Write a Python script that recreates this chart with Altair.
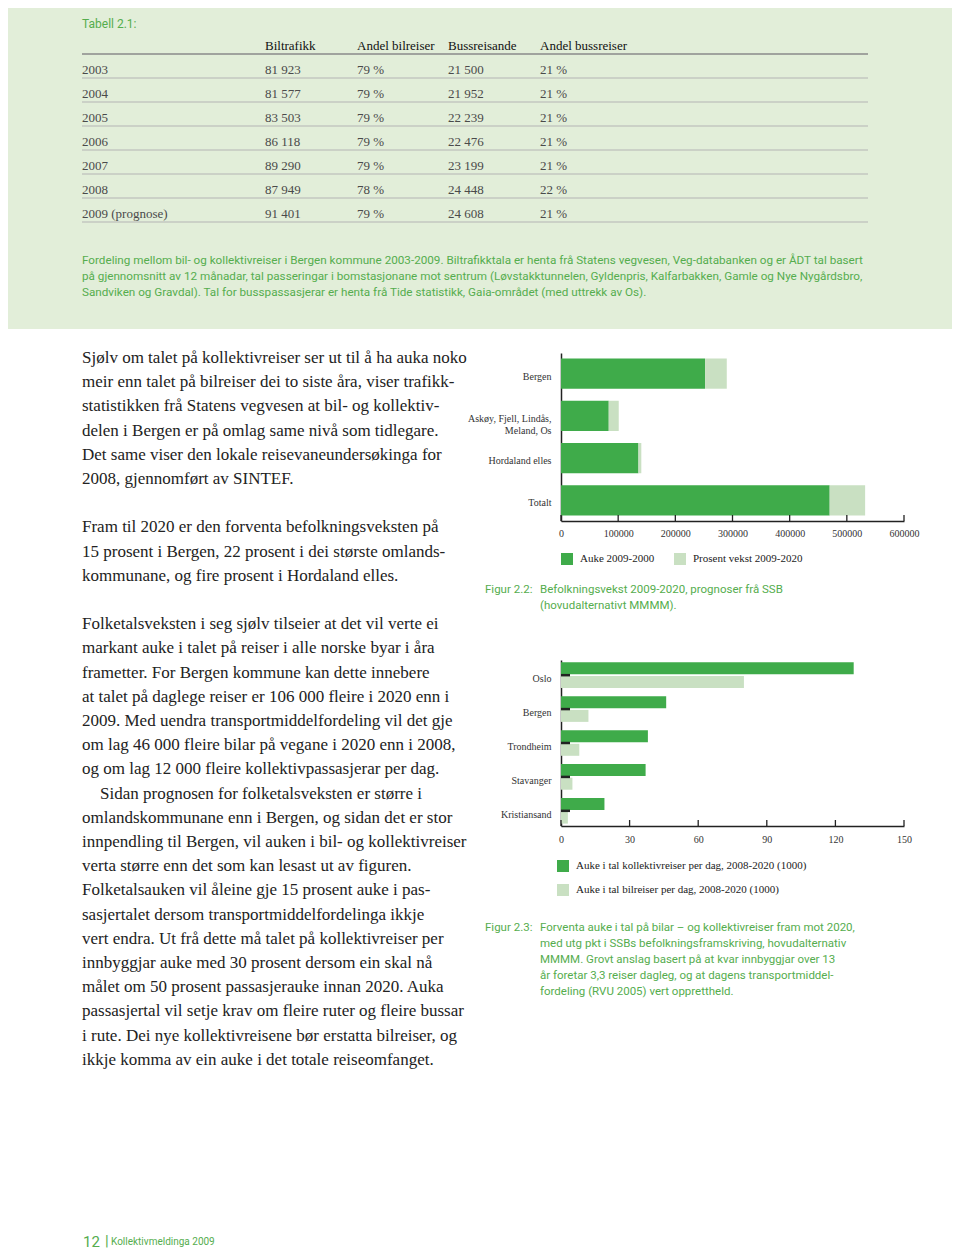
import altair as alt
import pandas as pd

DARK = "#3fab4a"
LIGHT = "#c9e0c2"
GREEN_TXT = "#55ad4e"
PANEL = "#e2eed9"
SERIF = "Liberation Serif"
SANS = "Roboto"

# ---------------- Tabell 2.1 ----------------
table_title = "Tabell 2.1:"
table_headers = ["", "Biltrafikk", "Andel bilreiser", "Bussreisande", "Andel bussreiser"]
table_years = ["2003", "2004", "2005", "2006", "2007", "2008", "2009 (prognose)"]
biltrafikk = [81923, 81577, 83503, 86118, 89290, 87949, 91401]
andel_bil = [79, 79, 79, 79, 79, 78, 79]
bussreisande = [21500, 21952, 22239, 22476, 23199, 24448, 24608]
andel_buss = [21, 21, 21, 21, 21, 22, 21]
table_caption = [
    "Fordeling mellom bil- og kollektivreiser i Bergen kommune 2003-2009. Biltrafikktala er henta frå Statens vegvesen, Veg-databanken og er ÅDT tal basert",
    "på gjennomsnitt av 12 månadar, tal passeringar i bomstasjonane mot sentrum (Løvstakktunnelen, Gyldenpris, Kalfarbakken, Gamle og Nye Nygårdsbro,",
    "Sandviken og Gravdal). Tal for busspassasjerar er henta frå Tide statistikk, Gaia-området (med uttrekk av Os).",
]

# ---------------- Figur 2.2 ----------------
regions = ["Bergen", "Askøy, Fjell, Lindås, Meland, Os", "Hordaland elles", "Totalt"]
auke = [252000, 83500, 135500, 470000]
vekst = [38000, 17500, 5000, 62000]
fig22_series = ["Auke 2009-2000", "Prosent vekst 2009-2020"]
fig22_ticks = [0, 100000, 200000, 300000, 400000, 500000, 600000]
fig22_label = "Figur 2.2:"
fig22_caption = ["Befolkningsvekst 2009-2020, prognoser frå SSB", "(hovudalternativt MMMM)."]

# ---------------- Figur 2.3 ----------------
cities = ["Oslo", "Bergen", "Trondheim", "Stavanger", "Kristiansand"]
kollektiv = [128, 46, 38, 37, 19]
bil = [80, 12, 8, 5, 3]
fig23_series = ["Auke i tal kollektivreiser per dag, 2008-2020 (1000)",
                "Auke i tal bilreiser per dag, 2008-2020 (1000)"]
fig23_ticks = [0, 30, 60, 90, 120, 150]
fig23_label = "Figur 2.3:"
fig23_caption = [
    "Forventa auke i tal på bilar – og kollektivreiser fram mot 2020,",
    "med utg pkt i SSBs befolkningsframskriving, hovudalternativ",
    "MMMM. Grovt anslag basert på at kvar innbyggjar over 13",
    "år foretar 3,3 reiser dagleg, og at dagens transportmiddel-",
    "fordeling (RVU 2005) vert opprettheld.",
]

# ---------------- Body text ----------------
body_p1 = [
    "Sjølv om talet på kollektivreiser ser ut til å ha auka noko",
    "meir enn talet på bilreiser dei to siste åra, viser trafikk-",
    "statistikken frå Statens vegvesen at bil- og kollektiv-",
    "delen i Bergen er på omlag same nivå som tidlegare.",
    "Det same viser den lokale reisevaneundersøkinga for",
    "2008, gjennomført av SINTEF.",
]
body_p2 = [
    "Fram til 2020 er den forventa befolkningsveksten på",
    "15 prosent i Bergen, 22 prosent i dei største omlands-",
    "kommunane, og fire prosent i Hordaland elles.",
]
body_p3 = [
    "Folketalsveksten i seg sjølv tilseier at det vil verte ei",
    "markant auke i talet på reiser i alle norske byar i åra",
    "frametter. For Bergen kommune kan dette innebere",
    "at talet på daglege reiser er 106 000 fleire i 2020 enn i",
    "2009. Med uendra transportmiddelfordeling vil det gje",
    "om lag 46 000 fleire bilar på vegane i 2020 enn i 2008,",
    "og om lag 12 000 fleire kollektivpassasjerar per dag.",
]
body_p4 = [
    "Sidan prognosen for folketalsveksten er større i",
    "omlandskommunane enn i Bergen, og sidan det er stor",
    "innpendling til Bergen, vil auken i bil- og kollektivreiser",
    "verta større enn det som kan lesast ut av figuren.",
    "Folketalsauken vil åleine gje 15 prosent auke i pas-",
    "sasjertalet dersom transportmiddelfordelinga ikkje",
    "vert endra. Ut frå dette må talet på kollektivreiser per",
    "innbyggjar auke med 30 prosent dersom ein skal nå",
    "målet om 50 prosent passasjerauke innan 2020. Auka",
    "passasjertal vil setje krav om fleire ruter og fleire bussar",
    "i rute. Dei nye kollektivreisene bør erstatta bilreiser, og",
    "ikkje komma av ein auke i det totale reiseomfanget.",
]
footer_page = "12"
footer_title = "Kollektivmeldinga 2009"

one = pd.DataFrame({"k": [0]})


def fmt(v):
    return f"{v:,}".replace(",", " ")


# ================= Top panel (table) =================
row_keys = ["hdr"] + table_years
tbl = pd.DataFrame({
    "row": row_keys,
    "c0": [table_headers[0]] + table_years,
    "c1": [table_headers[1]] + [fmt(v) for v in biltrafikk],
    "c2": [table_headers[2]] + [f"{v} %" for v in andel_bil],
    "c3": [table_headers[3]] + [fmt(v) for v in bussreisande],
    "c4": [table_headers[4]] + [f"{v} %" for v in andel_buss],
})
row_y = alt.Y("row:N", scale=alt.Scale(type="point", domain=row_keys, range=[38, 206], padding=0), axis=None)
col_x = [74, 257, 349, 440, 532]
is_hdr = "datum.row == 'hdr'"

table_layers = []
for i, cx in enumerate(col_x):
    table_layers.append(
        alt.Chart(tbl).mark_text(font=SERIF, fontSize=13, align="left", baseline="middle").encode(
            x=alt.value(cx), y=row_y, text=f"c{i}:N",
            color=alt.condition(is_hdr, alt.value("#111111"), alt.value("#4a4a4a")),
        )
    )
rules = alt.Chart(tbl).mark_rule(yOffset=8).encode(
    y=row_y, x=alt.value(74), x2=alt.value(860),
    color=alt.condition(is_hdr, alt.value("#8a8a8a"), alt.value("#b4b4b4")),
    strokeWidth=alt.condition(is_hdr, alt.value(1.4), alt.value(1)),
)
title_t = alt.Chart(one).mark_text(text=table_title, font=SANS, fontSize=12, color=GREEN_TXT,
                                   align="left", baseline="middle").encode(x=alt.value(74), y=alt.value(16))
cap_t = alt.Chart(one).mark_text(text=table_caption, font=SANS, fontSize=11.7, lineHeight=16, color=GREEN_TXT,
                                 align="left", baseline="top").encode(x=alt.value(74), y=alt.value(247))

top_panel = alt.layer(rules, *table_layers, title_t, cap_t).properties(
    width=944, height=321, view=alt.ViewBackground(fill=PANEL, strokeWidth=0)
)

# ================= Left text panel =================
LH = 24.2
Y0 = -3
blocks = [  # (lines, x, start line index)
    (body_p1, 74, 0),
    (body_p2, 74, 7),
    (body_p3, 74, 11),
    (body_p4[:1], 92, 18),
    (body_p4[1:], 74, 19),
]
body_layers = [
    alt.Chart(one).mark_text(text=lines, font=SERIF, fontSize=17, lineHeight=LH, color="#222222",
                             align="left", baseline="top").encode(x=alt.value(bx), y=alt.value(Y0 + LH * start))
    for lines, bx, start in blocks
]
foot1 = alt.Chart(one).mark_text(text=footer_page, font=SANS, fontSize=15, color=GREEN_TXT,
                                 align="left", baseline="middle").encode(x=alt.value(75), y=alt.value(889))
foot2 = alt.Chart(one).mark_text(text="|", font=SANS, fontSize=15, color=GREEN_TXT,
                                 align="left", baseline="middle").encode(x=alt.value(97), y=alt.value(888))
foot3 = alt.Chart(one).mark_text(text=footer_title, font=SANS, fontSize=10, color=GREEN_TXT,
                                 align="left", baseline="middle").encode(x=alt.value(103), y=alt.value(889))
left_panel = alt.layer(*body_layers, foot1, foot2, foot3).properties(width=543, height=473)

# ================= Figur 2.2 =================
df22 = pd.DataFrame(
    [{"region": r, "series": fig22_series[0], "value": a, "ord": 0} for r, a in zip(regions, auke)]
    + [{"region": r, "series": fig22_series[1], "value": v, "ord": 1} for r, v in zip(regions, vekst)]
)
x22_axis = alt.Axis(values=fig22_ticks, format="d", title=None, grid=False, ticks=False, labelPadding=7,
                    domainColor="#222222", domainWidth=1.5, labelFont=SERIF, labelFontSize=10,
                    labelColor="#333333", labelFlush=False)
x22 = alt.Scale(domain=[0, 600000], nice=False)
multi = ("datum.value == 'Askøy, Fjell, Lindås, Meland, Os' ? "
         "['Askøy, Fjell, Lindås,', 'Meland, Os'] : datum.label")
y22_axis = alt.Axis(title=None, ticks=False, labelPadding=10, labelExpr=multi, labelLineHeight=12,
                    labelOffset=3, domainColor="#222222", domainWidth=1.5, labelFont=SERIF, labelFontSize=10,
                    labelColor="#333333")
bars22 = alt.Chart(df22).mark_bar().encode(
    x=alt.X("value:Q", stack="zero", scale=x22, axis=x22_axis),
    y=alt.Y("region:N", sort=regions, scale=alt.Scale(paddingInner=0.285, paddingOuter=0.13), axis=y22_axis),
    color=alt.Color("series:N", scale=alt.Scale(domain=fig22_series, range=[DARK, LIGHT]),
                    legend=alt.Legend(orient="none", legendX=0, legendY=200, direction="horizontal", title=None,
                                      symbolType="square", symbolSize=144, symbolStrokeWidth=0,
                                      labelFont=SERIF, labelFontSize=11, labelColor="#222222", labelLimit=400,
                                      labelOffset=7, columnPadding=19, padding=0)),
    order=alt.Order("ord:Q"),
)
ticks22 = alt.Chart(pd.DataFrame({"value": fig22_ticks})).mark_rule(color="#222222", strokeWidth=1.3).encode(
    x=alt.X("value:Q", scale=x22, axis=x22_axis), y=alt.value(162), y2=alt.value(168)
)
cap22a = alt.Chart(one).mark_text(text=fig22_label, font=SANS, fontSize=11.5, color=GREEN_TXT,
                                  align="left", baseline="top").encode(x=alt.value(-76), y=alt.value(231))
cap22b = alt.Chart(one).mark_text(text=fig22_caption, font=SANS, fontSize=11.5, lineHeight=16, color=GREEN_TXT,
                                  align="left", baseline="top").encode(x=alt.value(-21), y=alt.value(231))
fig22 = alt.layer(bars22, ticks22, cap22a, cap22b).properties(width=343, height=168)

# ================= Figur 2.3 =================
df23 = pd.DataFrame(
    [{"city": c, "series": fig23_series[0], "value": v} for c, v in zip(cities, kollektiv)]
    + [{"city": c, "series": fig23_series[1], "value": v} for c, v in zip(cities, bil)]
)
x23 = alt.Scale(domain=[0, 150], nice=False)
x23_axis = alt.Axis(values=fig23_ticks, title=None, grid=False, ticks=False, labelPadding=8,
                    domainColor="#222222", domainWidth=1.5, labelFont=SERIF, labelFontSize=10,
                    labelColor="#333333", labelFlush=False)
y23_axis = alt.Axis(title=None, ticks=False, labelPadding=10, labelOffset=4, domainColor="#222222",
                    domainWidth=1.5, labelFont=SERIF, labelFontSize=10, labelColor="#333333")
y23_scale = alt.Scale(paddingInner=0.245, paddingOuter=0.07)
bars23 = alt.Chart(df23).mark_bar().encode(
    x=alt.X("value:Q", scale=x23, axis=x23_axis),
    y=alt.Y("city:N", sort=cities, scale=y23_scale, axis=y23_axis),
    yOffset=alt.YOffset("series:N", sort=fig23_series,
                        scale=alt.Scale(domain=fig23_series, paddingInner=0.12)),
    color=alt.Color("series:N", scale=alt.Scale(domain=fig23_series, range=[DARK, LIGHT]),
                    legend=alt.Legend(orient="none", legendX=-4, legendY=200, direction="vertical", title=None,
                                      symbolType="square", symbolSize=144, symbolStrokeWidth=0,
                                      labelFont=SERIF, labelFontSize=11, labelColor="#222222", labelLimit=400,
                                      labelOffset=7, rowPadding=12, padding=0)),
)
yticks23 = alt.Chart(pd.DataFrame({"city": cities})).mark_rule(color="#222222", strokeWidth=2.5).encode(
    y=alt.Y("city:N", sort=cities, scale=y23_scale, axis=y23_axis, bandPosition=0.5),
    x=alt.value(0), x2=alt.value(9),
)
xticks23 = alt.Chart(pd.DataFrame({"value": fig23_ticks})).mark_rule(color="#222222", strokeWidth=1.3).encode(
    x=alt.X("value:Q", scale=x23, axis=x23_axis), y=alt.value(160), y2=alt.value(166)
)
cap23a = alt.Chart(one).mark_text(text=fig23_label, font=SANS, fontSize=11.5, color=GREEN_TXT,
                                  align="left", baseline="top").encode(x=alt.value(-76), y=alt.value(262))
cap23b = alt.Chart(one).mark_text(text=fig23_caption, font=SANS, fontSize=11.5, lineHeight=16.1, color=GREEN_TXT,
                                  align="left", baseline="top").encode(x=alt.value(-21), y=alt.value(262))
fig23 = alt.layer(bars23, yticks23, xticks23, cap23a, cap23b).properties(width=343, height=166)

# ================= Assemble =================
right_col = alt.vconcat(fig22, fig23, spacing=139, bounds="flush").resolve_scale(color="independent")
middle = alt.hconcat(left_panel, right_col, spacing=10, bounds="flush").resolve_scale(color="independent")
chart = alt.vconcat(top_panel, middle, spacing=24, bounds="flush").resolve_scale(
    color="independent", x="independent", y="independent"
).properties(padding=0).configure_view(strokeWidth=0)

chart.save("out.html", embed_options={"renderer": "svg", "actions": False})
